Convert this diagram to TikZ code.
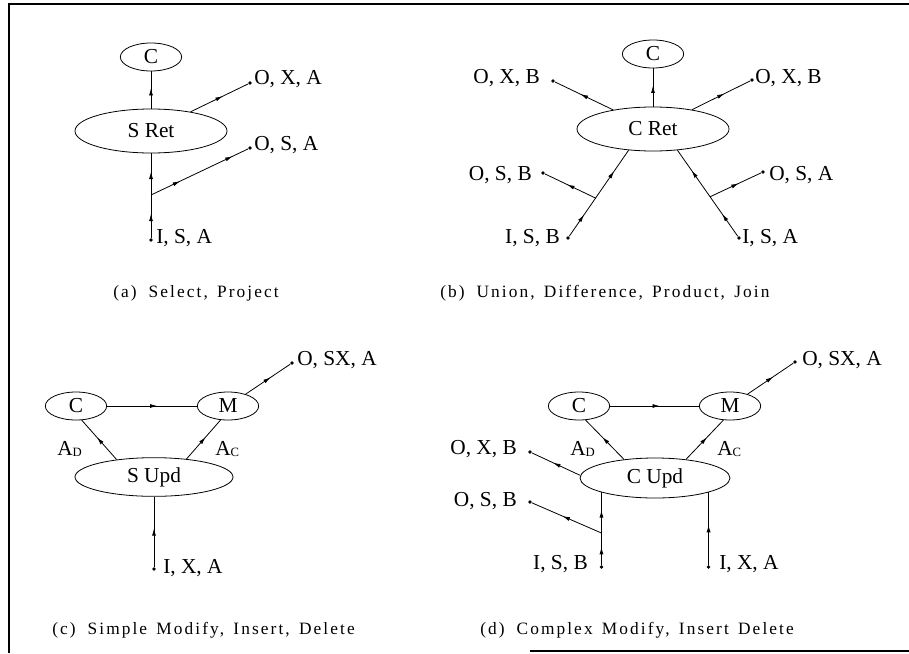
\documentclass[tikz,border=0pt]{standalone}
\usepackage{fontspec}
\setmainfont{Liberation Serif}
\newfontfamily\capfont[LetterSpace=12]{Liberation Serif}
\usetikzlibrary{shapes.geometric,decorations.markings,arrows.meta,calc}

\newcommand\lowsub[1]{\raisebox{-1.2pt}{\fontsize{9.5}{9.5}\selectfont #1}}
\newcommand\capgap{\hspace{9pt}}

\tikzset{
  wire/.style={line width=0.6pt},
  midarr/.style={postaction={decorate},decoration={markings,
      mark=at position #1 with {\arrow{Latex[length=5.5pt,width=3pt]}}}},
  midarr/.default=0.56,
  twoarr/.style 2 args={postaction={decorate},decoration={markings,
      mark=at position #1 with {\arrow{Latex[length=5.5pt,width=3pt]}},
      mark=at position #2 with {\arrow{Latex[length=5.5pt,width=3pt]}}}},
  oval/.style={draw,ellipse,inner sep=0pt,line width=0.6pt,
      font=\fontsize{16}{16}\selectfont},
  smalloval/.style={oval,minimum width=46pt,minimum height=21pt},
  bigoval/.style={oval,minimum width=114pt,minimum height=33pt},
  dotn/.style={circle,fill,inner sep=0pt,minimum size=2.8pt},
  lbl/.style={inner sep=0pt,font=\fontsize{16}{16}\selectfont},
  captext/.style={inner sep=0pt,anchor=base west,font=\capfont\fontsize{13}{15}\selectfont},
}

\begin{document}
\begin{tikzpicture}[x=0.75pt,y=-0.75pt]
\useasboundingbox (0,0) rectangle (909,653);

% frame
\draw[line width=1.2pt] (9,653) -- (9,4) -- (909,4);
\draw[line width=1pt] (530,651) -- (909,651);

% ---------- (a) Select, Project ----------
\node[smalloval] (a-c) at (151,57) {C};
\node[bigoval] (a-ret) at (151,131) {S Ret};
\node[dotn] (a-oxa) at (250,83) {};
\node[dotn] (a-osa) at (250,148) {};
\node[dotn] (a-isa) at (151,240) {};
\coordinate (a-br) at (151,195);
\draw[wire,midarr=0.55] (a-ret) -- (a-c);
\draw[wire,midarr] (a-ret) -- (a-oxa);
\draw[wire,midarr] (a-isa) -- (a-br);
\draw[wire,midarr] (a-br) -- (a-ret);
\draw[wire,twoarr={0.3}{0.84}] (a-br) -- (a-osa);
\node[lbl,anchor=base west] (a-l1) at (254,84) {O, X, A};
\node[lbl,anchor=base west] (a-l2) at (254,150) {O, S, A};
\node[lbl,anchor=base west] (a-l3) at (156,243) {I, S, A};
\node[captext] (a-cap) at (113,297) {(a)\capgap Select,\, Project};

% ---------- (b) Union, Difference, Product, Join ----------
\node[smalloval] (b-c) at (653,54) {C};
\node[bigoval] (b-ret) at (653,129) {C Ret};
\node[dotn] (b-oxbl) at (553,81) {};
\node[dotn] (b-oxbr) at (752,80) {};
\node[dotn] (b-osb) at (543,173) {};
\node[dotn] (b-isb) at (568,238) {};
\node[dotn] (b-osa) at (763,172) {};
\node[dotn] (b-isa) at (739,238) {};
\coordinate (b-brl) at ($(b-ret.221)!0.545!(b-isb)$);
\coordinate (b-brr) at ($(b-ret.-41)!0.53!(b-isa)$);
\draw[wire,midarr=0.55] (b-ret) -- (b-c);
\draw[wire,midarr] (b-ret) -- (b-oxbl);
\draw[wire,midarr] (b-ret) -- (b-oxbr);
\draw[wire,midarr] (b-isb) -- (b-brl);
\draw[wire,midarr] (b-brl) -- (b-ret.221);
\draw[wire,midarr] (b-brl) -- (b-osb);
\draw[wire,midarr] (b-isa) -- (b-brr);
\draw[wire,midarr] (b-brr) -- (b-ret.-41);
\draw[wire,midarr] (b-brr) -- (b-osa);
\node[lbl,anchor=base east] (b-l1) at (540,83) {O, X, B};
\node[lbl,anchor=base west] (b-l2) at (755,83) {O, X, B};
\node[lbl,anchor=base east] (b-l3) at (532,180) {O, S, B};
\node[lbl,anchor=base west] (b-l4) at (769,180) {O, S, A};
\node[lbl,anchor=base east] (b-l5) at (560,243) {I, S, B};
\node[lbl,anchor=base west] (b-l6) at (742,243) {I, S, A};
\node[captext] (b-cap) at (440,297) {(b)\capgap Union,\, Difference,\, Product,\, Join};

% ---------- (c) Simple Modify, Insert, Delete ----------
\node[smalloval] (c-c) at (76,406) {C};
\node[smalloval] (c-m) at (228,406) {M};
\node[oval,minimum width=118.5pt,minimum height=29pt] (c-upd) at (154,477) {S Upd};
\node[dotn] (c-osx) at (292,363) {};
\node[dotn] (c-ixa) at (154,569) {};
\draw[wire,midarr] (c-c) -- (c-m);
\draw[wire,midarr] (c-upd.155) -- (c-c.292);
\draw[wire,midarr] (c-upd.29) -- (c-m.242);
\draw[wire,midarr] (c-m) -- (c-osx);
\draw[wire,midarr=0.55] (c-ixa) -- (c-upd);
\node[lbl,anchor=base west] (c-l1) at (297,365) {O, SX, A};
\node[lbl,anchor=base west] (c-l2) at (163,573) {I, X, A};
\node[lbl,anchor=base west] (c-ad) at (57,455) {A\lowsub{D}};
\node[lbl,anchor=base west] (c-ac) at (215,455) {A\lowsub{C}};
\node[captext] (c-cap) at (52,634) {(c)\capgap Simple\, Modify,\, Insert,\, Delete};

% ---------- (d) Complex Modify, Insert Delete ----------
\node[smalloval] (d-c) at (579,406) {C};
\node[smalloval] (d-m) at (730,406) {M};
\node[oval,minimum width=112.5pt,minimum height=30pt] (d-upd) at (655,478) {C Upd};
\coordinate (d-base) at (0,567);
\coordinate (d-brbase) at (0,533);
\node[dotn] (d-osx) at (795,362) {};
\node[dotn] (d-oxb) at (530,452) {};
\node[dotn] (d-osb) at (530,502) {};
\node[dotn] (d-isb) at (d-upd.195 |- d-base) {};
\node[dotn] (d-ixa) at (d-upd.345 |- d-base) {};
\coordinate (d-br) at (d-isb |- d-brbase);
\draw[wire,midarr] (d-c) -- (d-m);
\draw[wire,midarr] (d-upd.149) -- (d-c.295);
\draw[wire,midarr] (d-upd.31) -- (d-m.245);
\draw[wire,midarr] (d-m) -- (d-osx);
\draw[wire,midarr] (d-upd.178) -- (d-oxb);
\draw[wire,midarr] (d-isb) -- (d-br);
\draw[wire,midarr] (d-br) -- (d-upd.195);
\draw[wire,midarr] (d-br) -- (d-osb);
\draw[wire,midarr=0.55] (d-ixa) -- (d-upd.345);
\node[lbl,anchor=base west] (d-l1) at (802,365) {O, SX, A};
\node[lbl,anchor=base east] (d-l2) at (517,454) {O, X, B};
\node[lbl,anchor=base east] (d-l3) at (517,506) {O, S, B};
\node[lbl,anchor=base east] (d-l4) at (588,569) {I, S, B};
\node[lbl,anchor=base west] (d-l5) at (719,569) {I, X, A};
\node[lbl,anchor=base west] (d-ad) at (570,455) {A\lowsub{D}};
\node[lbl,anchor=base west] (d-ac) at (717,455) {A\lowsub{C}};
\node[captext] (d-cap) at (480,634) {(d)\capgap Complex\, Modify,\, Insert\, Delete};
\end{tikzpicture}
\end{document}
